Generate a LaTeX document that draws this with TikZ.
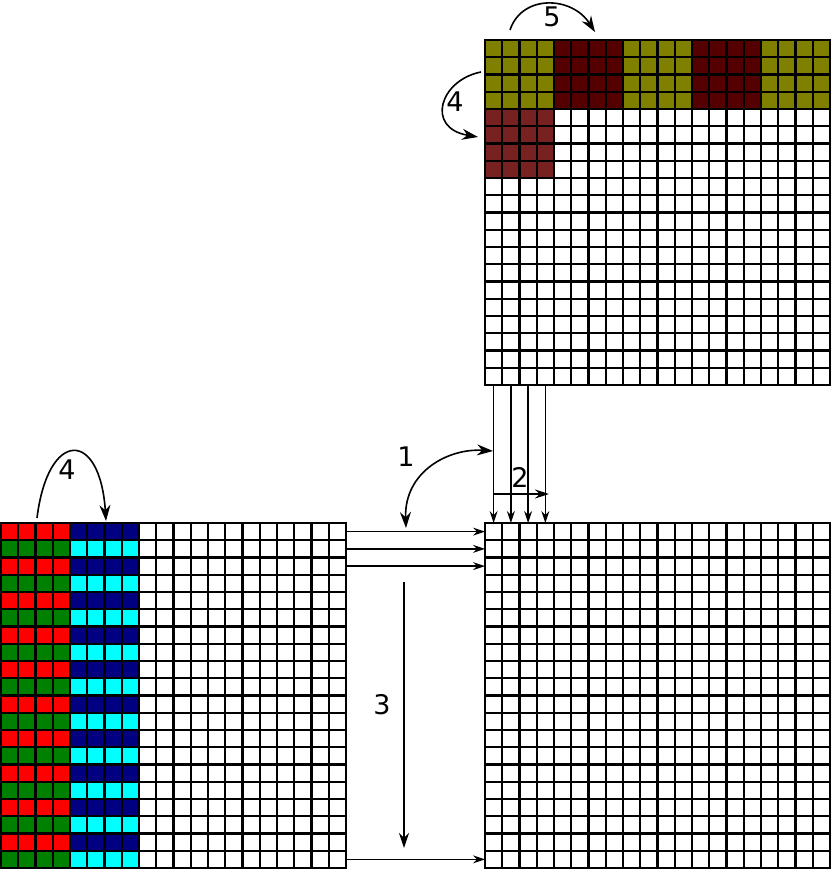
\documentclass[tikz,border=0pt]{standalone}
\usepackage{fontspec}
\setmainfont{DejaVu Sans}
\usetikzlibrary{arrows.meta}
\definecolor{olivec}{HTML}{808000}
\definecolor{darkredc}{HTML}{550000}
\definecolor{brownc}{HTML}{782121}
\definecolor{redc}{HTML}{FF0000}
\definecolor{greenc}{HTML}{008000}
\definecolor{navyc}{HTML}{000080}
\definecolor{cyanc}{HTML}{00FFFF}
\newcommand{\cs}{17.25}
% fill cells: origin x, origin y, col from, col to, row from, row to, colour
\newcommand{\fillcells}[7]{%
  \foreach \ci in {#3,...,#4}{\foreach \ri in {#5,...,#6}{%
    \fill[#7] ({#1+\ci*\cs},{#2+\ri*\cs}) rectangle ++(\cs,\cs);}}}
\newcommand{\gridlines}[2]{%
  \foreach \k in {0,...,20}{%
    \draw[gridline] ({#1+\k*\cs},#2) -- ++(0,{20*\cs});
    \draw[gridline] (#1,{#2+\k*\cs}) -- ++({20*\cs},0);}}
\begin{document}
\begin{tikzpicture}[x=1pt,y=-1pt,
  gridline/.style={line width=2.1pt,black,line cap=rect},
  gridbox/.style={draw=none,inner sep=0pt,minimum width=345pt,minimum height=345pt,anchor=north west},
  flow/.style={line width=1.3pt,-{Stealth[length=12pt,width=8pt]}},
  curvearrow/.style={line width=1.6pt},
  lbl/.style={font=\fontsize{27}{31}\selectfont,inner sep=0pt}]
\useasboundingbox (0,0) rectangle (831,869);
\fill[white] (0,0) rectangle (831,869);
% grid placeholders
\node[gridbox] (T) at (485,40) {};
\node[gridbox] (L) at (1,523) {};
\node[gridbox] (R) at (485,523) {};
% top grid colours
\fillcells{485}{40}{0}{3}{0}{3}{olivec}
\fillcells{485}{40}{4}{7}{0}{3}{darkredc}
\fillcells{485}{40}{8}{11}{0}{3}{olivec}
\fillcells{485}{40}{12}{15}{0}{3}{darkredc}
\fillcells{485}{40}{16}{19}{0}{3}{olivec}
\fillcells{485}{40}{0}{3}{4}{7}{brownc}
% left grid colours
\foreach \r in {0,2,...,18}{%
  \fillcells{1}{523}{0}{3}{\r}{\r}{redc}
  \fillcells{1}{523}{4}{7}{\r}{\r}{navyc}}
\foreach \r in {1,3,...,19}{%
  \fillcells{1}{523}{0}{3}{\r}{\r}{greenc}
  \fillcells{1}{523}{4}{7}{\r}{\r}{cyanc}}
\gridlines{485}{40}
\gridlines{1}{523}
\gridlines{485}{523}
% column flows from top grid to right grid
\foreach \c [count=\n] in {0,1,2,3}{%
  \coordinate (cf\n) at ({485+(\c+0.5)*\cs},384.5);
  \draw[flow] (cf\n) -- (cf\n |- R.north);}
% row flows from left grid to right grid
\foreach \r [count=\n] in {0,1,2,19}{%
  \coordinate (rf\n) at (346.5,{523+(\r+0.5)*\cs});
  \draw[flow] (rf\n) -- (rf\n -| R.west);}
% arrow 1
\coordinate (a1s) at (493,451);
\coordinate (a1e) at (406,528);
\draw[curvearrow,{Stealth[length=16pt,width=11pt]}-{Stealth[length=16pt,width=11pt]}] (a1s) .. controls (448,448) and (404,472) .. (a1e);
\node[lbl] (l1) at (406,457) {1};
% arrow 2
\coordinate (a2s) at (494,494);
\coordinate (a2e) at (549,494);
\draw[flow,-{Stealth[length=14pt,width=9pt]}] (a2s) -- (a2e);
\node[lbl] (l2) at (520,477) {2};
% arrow 3
\coordinate (a3s) at (404,582);
\coordinate (a3e) at (404,848);
\draw[flow,-{Stealth[length=15pt,width=10pt]}] (a3s) -- (a3e);
\node[lbl] (l3) at (382,705) {3};
% arrow 4 bottom
\coordinate (a4s) at (37,518);
\coordinate (a4e) at (106,521);
\draw[curvearrow,-{Stealth[length=16pt,width=11pt]}] (a4s) .. controls (48,429) and (100,429) .. (a4e);
\node[lbl] (l4) at (67,470) {4};
% arrow 4 top
\coordinate (b4s) at (481,72);
\coordinate (b4e) at (478,137);
\draw[curvearrow,-{Stealth[length=16pt,width=11pt]}] (b4s) .. controls (440,80) and (425,128) .. (b4e);
\node[lbl] (m4) at (455,102) {4};
% arrow 5
\coordinate (a5s) at (510,30);
\coordinate (a5e) at (595,32);
\draw[curvearrow,-{Stealth[length=16pt,width=11pt]}] (a5s) .. controls (522,-6) and (572,-4) .. (a5e);
\node[lbl] (l5) at (552,17) {5};
\end{tikzpicture}
\end{document}
